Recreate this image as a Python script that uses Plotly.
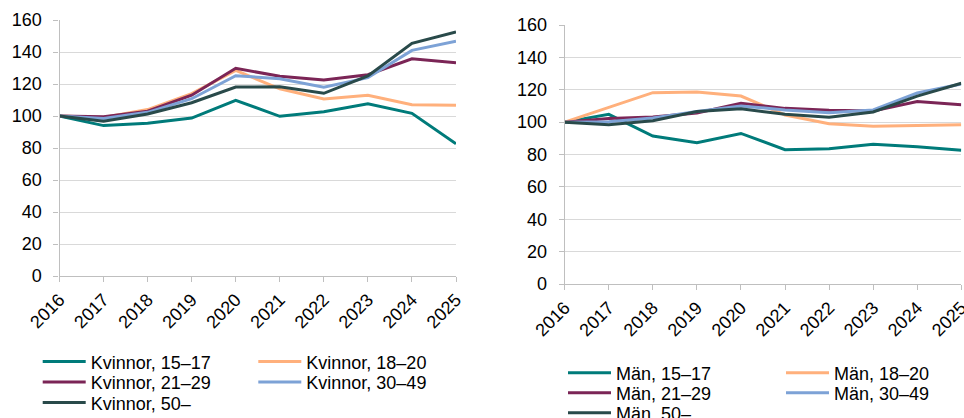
import plotly.graph_objects as go

# ---------------- data ----------------
years = [2016, 2017, 2018, 2019, 2020, 2021, 2022, 2023, 2024, 2025]
year_labels = [str(y) for y in years]

women_names = ["Kvinnor, 15–17", "Kvinnor, 18–20", "Kvinnor, 21–29", "Kvinnor, 30–49", "Kvinnor, 50–"]
women_15_17 = [100, 94.0, 95.4, 98.7, 109.8, 99.8, 102.7, 107.6, 101.7, 82.6]
women_18_20 = [100, 99.0, 104.0, 114.0, 128.5, 117.0, 110.6, 113.0, 107.0, 106.7]
women_21_29 = [100, 99.6, 103.0, 113.0, 129.8, 124.8, 122.5, 125.8, 135.8, 133.3]
women_30_49 = [100, 98.5, 102.3, 110.8, 125.2, 123.3, 118.0, 124.0, 141.0, 146.7]
women_50 = [100, 96.7, 101.3, 108.3, 118.1, 118.3, 114.2, 125.0, 145.4, 152.5]

men_names = ["Män, 15–17", "Män, 18–20", "Män, 21–29", "Män, 30–49", "Män, 50–"]
men_15_17 = [100, 104.8, 91.4, 87.3, 93.0, 83.0, 83.6, 86.3, 84.8, 82.6]
men_18_20 = [100, 109.0, 118.2, 118.6, 116.1, 104.4, 99.0, 97.4, 97.8, 98.4]
men_21_29 = [100, 102.3, 103.2, 105.6, 111.6, 108.5, 107.3, 106.9, 112.8, 110.8]
men_30_49 = [100, 100.3, 102.5, 106.5, 110.0, 107.5, 105.8, 107.5, 118.0, 123.6]
men_50 = [100, 98.4, 100.9, 106.5, 108.3, 104.8, 103.0, 106.3, 116.1, 124.0]

y_ticks = [0, 20, 40, 60, 80, 100, 120, 140, 160]

# ---------------- style ----------------
colors = ["#007b7a", "#ffb07c", "#7b2556", "#7da2d6", "#294a4a"]
W, H = 964, 418
FONT = "Liberation Sans, Arial, sans-serif"
FS = 18

women = [women_15_17, women_18_20, women_21_29, women_30_49, women_50]
men = [men_15_17, men_18_20, men_21_29, men_30_49, men_50]

# legend entry positions (pixel: line start x, row centre y)
left_leg_pos = [(42.7, 361), (258.3, 361), (42.7, 381.5), (258.3, 381.5), (42.7, 402)]
right_leg_pos = [(568, 372.3), (786, 372.3), (568, 392.3), (786, 392.3), (568, 412.3)]

fig = go.Figure()
legend_layouts = {}
Y_OFF = 17.7


def add_group(names, series, xa, ya, positions, start_idx):
    for i, (nm, vals) in enumerate(zip(names, series)):
        k = start_idx + i
        lg = "legend" if k == 1 else f"legend{k}"
        fig.add_trace(go.Scatter(
            x=years, y=vals, mode="lines", name=nm,
            line=dict(color=colors[i], width=3),
            xaxis=xa, yaxis=ya, legend=lg, showlegend=True,
        ))
        lx, ly = positions[i]
        legend_layouts[lg] = dict(
            x=(lx - 5) / W, y=1 - (ly - Y_OFF) / H,
            xanchor="left", yanchor="top",
            bgcolor="rgba(0,0,0,0)", borderwidth=0,
            font=dict(family=FONT, size=FS, color="#000000"),
            itemwidth=43, orientation="v",
        )


add_group(women_names, women, "x", "y", left_leg_pos, 1)
add_group(men_names, men, "x2", "y2", right_leg_pos, 6)

axis_common = dict(
    showline=True, linecolor="#bfbfbf", linewidth=1.3,
    ticks="outside", ticklen=5, tickcolor="#bfbfbf", tickwidth=1.3,
    tickfont=dict(family=FONT, size=FS, color="#000000"),
    zeroline=False, automargin=False, ticklabeloverflow="allow",
)

xaxis_common = dict(
    axis_common, range=[2016, 2025], tickvals=years, ticktext=year_labels,
    tickangle=-45, showgrid=False,
)
yaxis_common = dict(
    axis_common, range=[0, 160], tickvals=y_ticks, showgrid=True,
    gridcolor="#d9d9d9", gridwidth=1.3, ticklabelstandoff=8,
)

fig.update_layout(
    width=W, height=H,
    margin=dict(l=0, r=0, t=0, b=0, autoexpand=False),
    paper_bgcolor="white", plot_bgcolor="white",
    font=dict(family=FONT, size=FS, color="#000000"),
    xaxis=dict(xaxis_common, domain=[59.5 / W, 456 / W], anchor="y"),
    yaxis=dict(yaxis_common, domain=[1 - 276 / H, 1 - 20 / H], anchor="x"),
    xaxis2=dict(xaxis_common, domain=[564.7 / W, 961.3 / W], anchor="y2"),
    yaxis2=dict(yaxis_common, domain=[1 - 284 / H, 1 - 25 / H], anchor="x2"),
    **legend_layouts,
)

fig.write_html(
    "out.html",
    config={"displayModeBar": False},
    post_script="document.body.style.margin='0';document.body.style.overflow='hidden';",
)
